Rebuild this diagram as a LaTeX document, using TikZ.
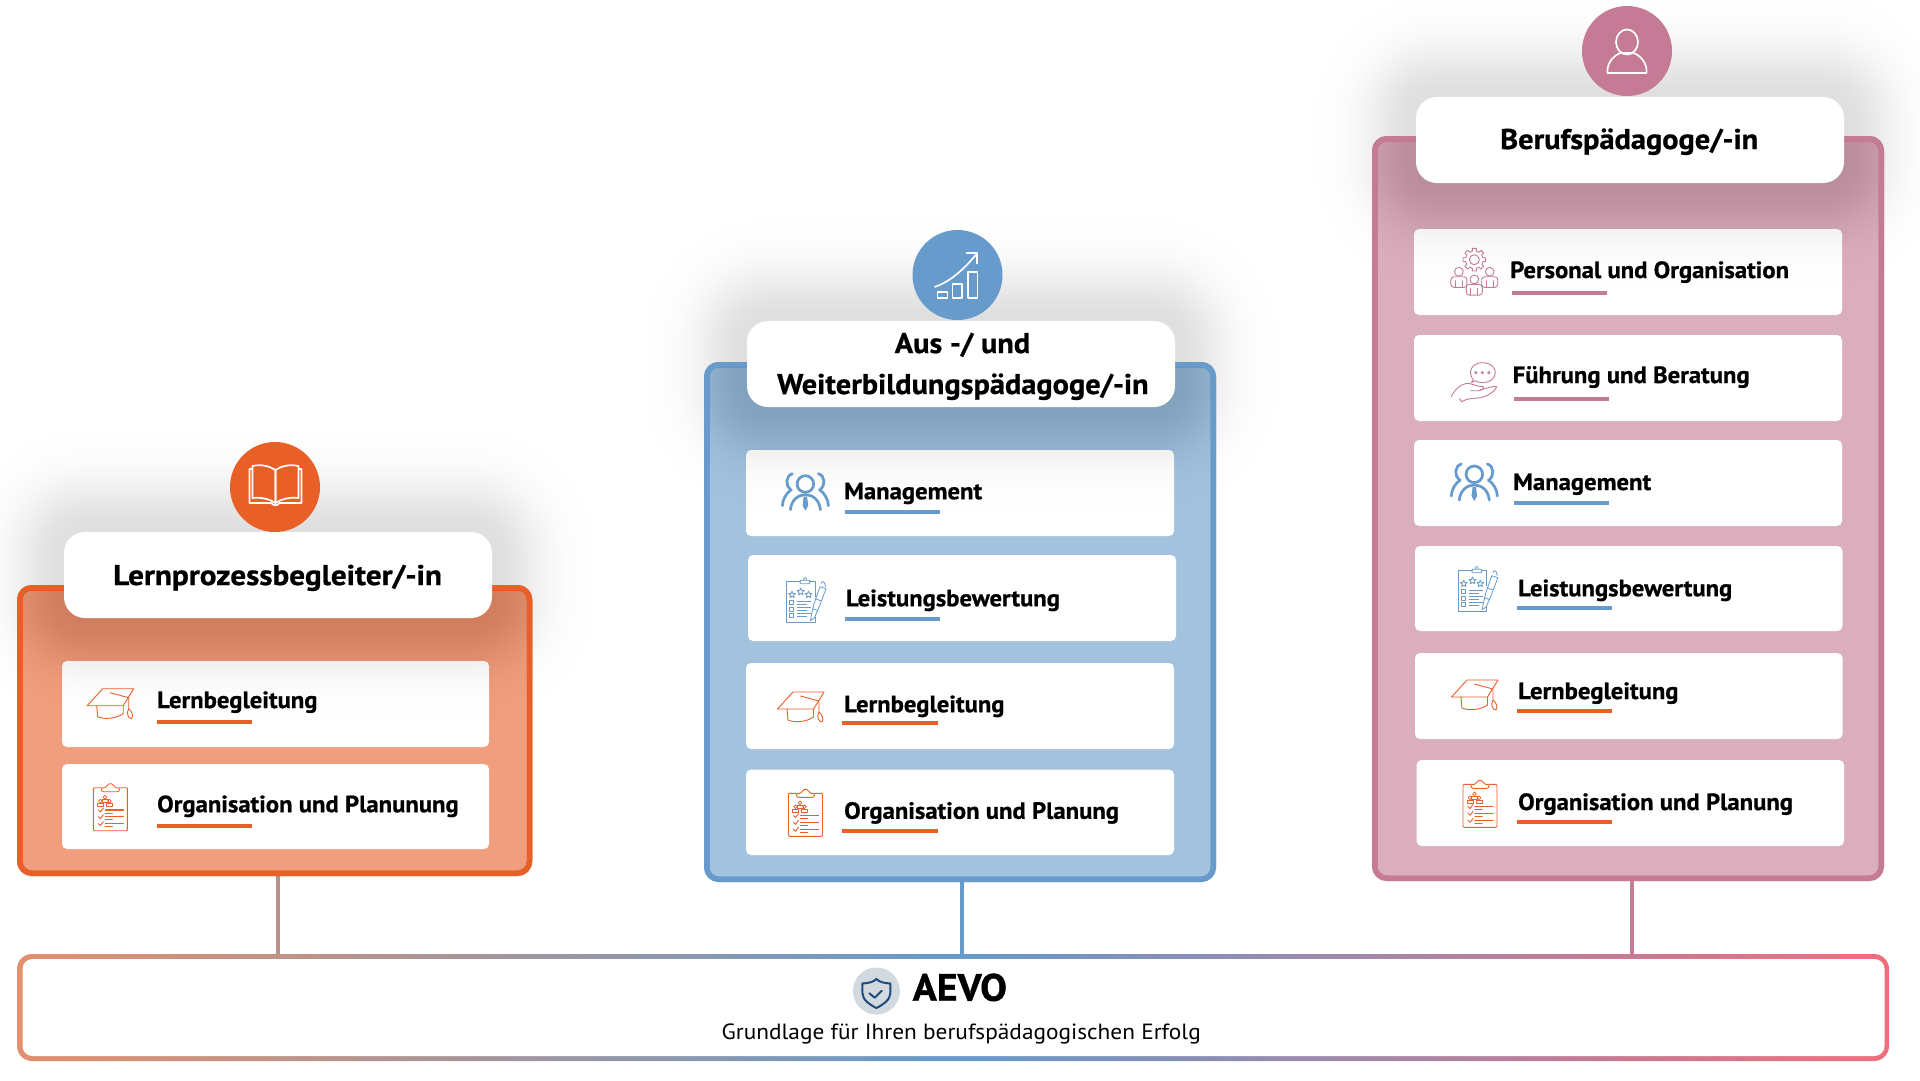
\documentclass[tikz,border=0pt]{standalone}
\usepackage{fontspec}
\setmainfont{PT Sans}
\newfontfamily\fitem{PT Sans}[BoldFeatures={FakeBold=0.8,FakeStretch=1.05}]
\newfontfamily\fhead{PT Sans}[BoldFeatures={FakeBold=0.8,FakeStretch=1.065}]
\newfontfamily\fheadb{PT Sans}[BoldFeatures={FakeBold=0.8,FakeStretch=1.095}]
\newfontfamily\fsub{PT Sans}[FakeStretch=1.06]
\newfontfamily\faevo{PT Sans}[BoldFeatures={FakeBold=1,FakeStretch=1.05}]
\usetikzlibrary{calc}
\definecolor{org}{HTML}{E95F28}\definecolor{orgl}{HTML}{F09E7D}
\definecolor{blu}{HTML}{669BCB}\definecolor{blul}{HTML}{A3C2DE}
\definecolor{ros}{HTML}{C57B95}\definecolor{rosl}{HTML}{DAAEBD}
\definecolor{gl}{HTML}{E3906C}\definecolor{gr}{HTML}{F06E7C}
\definecolor{shieldc}{HTML}{1F4A7D}\definecolor{shieldb}{HTML}{D3DADF}
\definecolor{cl}{HTML}{B8928A}
\tikzset{
 cardbox/.style={line width=5.5pt,rounded corners=12pt,inner sep=0pt,outer sep=0pt},
 itembox/.style={fill=white,rounded corners=5pt,inner sep=0pt,outer sep=0pt},
 headbox/.style={fill=white,rounded corners=21pt,inner sep=0pt,outer sep=0pt},
 disc/.style={circle,minimum size=90pt,inner sep=0pt,outer sep=0pt},
 itemtext/.style={anchor=base west,inner sep=0pt,font=\fitem\fontsize{23.5}{28}\selectfont\bfseries},
 headtext/.style={anchor=base west,inner sep=0pt,font=\fhead\fontsize{28.5}{34}\selectfont\bfseries},
 headtextb/.style={anchor=base west,inner sep=0pt,font=\fheadb\fontsize{28.5}{34}\selectfont\bfseries},
 link/.style={line width=4pt},
 uline/.style={line width=4pt},
 ic/.style={line width=.9pt,line join=round,line cap=round},
 wicon/.style={draw=white,line width=1.7pt,line join=round},
}
\newcommand\bx[6]{\pgfmathsetmacro\bw{#5-#3}\pgfmathsetmacro\bh{#6-#4}%
 \node[#1,minimum width=\bw pt,minimum height=\bh pt] (#2) at ({(#3+#5)/2},{(#4+#6)/2}) {};}
\newcommand\softsh[4]{\foreach \i in {1,...,32}{\pgfmathsetmacro\e{50*sqrt(-ln((\i-.5)/32))}\pgfmathsetlengthmacro\rr{21+\e}%
 \fill[black,opacity=.0042,rounded corners=\rr] ({#1-\e},{#2-\e}) rectangle ({#3+\e},{#4+\e});}}
\newcommand\itm[8]{\node[itemtext] (#2) at (#3,#4) {#5};\draw[uline,#1] (#6,#8) -- (#7,#8);}
\newcommand\icHat[3]{\begin{scope}[shift={(#1,#2)},draw=#3,ic]
 \draw (-8,-15)--(23,-15)--(12.5,2)--(-23.5,2)--cycle;
 \draw (-.5,-11)--(18,-6)--(18,5);
 \draw (18,5) .. controls (15,10) and (18,15) .. (21,15) .. controls (23,12) and (21,7) .. (18,5);
 \draw (-14,2) -- (-13,13) .. controls (-6,16) and (5,15) .. (12.5,10) -- (12.5,2);
\end{scope}}
\newcommand\icClip[3]{\begin{scope}[shift={(#1,#2)},draw=#3,ic]
 \draw[rounded corners=1pt] (-17,-19) rectangle (17,24);
 \fill[white,rounded corners=2pt] (-9,-20) rectangle (9,-14);
 \draw[rounded corners=2pt] (-9,-19) -- (-9,-15) -- (9,-15) -- (9,-19) -- (3.5,-19) -- (3,-23) -- (-3,-23) -- (-3.5,-19) -- cycle;
 \foreach \p/\q in {-5.5/-9.5,-10/-5.5,-1/-5.5}{\draw[line width=.7pt] (\p,\q) circle [radius=1.9];
   \draw[line width=.7pt] (\p-3,\q+5.5) -- (\p-3,\q+2.5) -- (\p+3,\q+2.5) -- (\p+3,\q+5.5) -- cycle;}
 \foreach \r in {3.3,10,17}{\draw (-12,\r) -- (-10,\r+2) -- (-7,\r-2);
   \draw[line width=1.1pt] (-5,\r) -- (13,\r); \draw[line width=1.1pt] (-5,\r+3.2) -- (2,\r+3.2);}
\end{scope}}
\newcommand\icPeople[3]{\begin{scope}[shift={(#1,#2)},draw=#3,line width=2.7pt,line cap=round]
 \draw (0,-8.7) circle [radius=8.3];
 \draw (-15,17) .. controls (-14,7) and (-7,2) .. (0,2) .. controls (7,2) and (14,7) .. (15,17);
 \fill[#3] (-1.7,4) -- (1.7,4) -- (2.8,13) -- (0,18) -- (-2.8,13) -- cycle;
 \foreach \s in {-1,1}{\begin{scope}[xscale=\s]
  \draw (13,-19) .. controls (20,-17) and (20,-7) .. (15,-3);
  \draw (14,-3) .. controls (19,0) and (23,7) .. (23,13);
 \end{scope}}
\end{scope}}
\newcommand\starp[3]{\draw[shift={(#1,#2)}] (-90:#3) -- (-54:.45*#3) -- (-18:#3) -- (18:.45*#3) -- (54:#3) -- (90:.45*#3) -- (126:#3) -- (162:.45*#3) -- (198:#3) -- (234:.45*#3) -- cycle;}
\newcommand\icRate[3]{\begin{scope}[shift={(#1,#2)},draw=#3,line width=.8pt,line join=round]
 \draw (-4,-20) -- (-18.5,-20) -- (-18.5,21) -- (10,21) -- (10,15);
 \draw (10,-5) -- (10,-20) -- (4,-20);
 \draw[rounded corners=1pt] (-5,-18) rectangle (5,-21.5); \draw (-1.5,-21.5) -- (-1,-24) -- (1,-24) -- (1.5,-21.5);
 \starp{-13}{-7}{3.6}\starp{-4.3}{-10}{3.8}\starp{3.5}{-7}{3.6}
 \foreach \r in {1,7.3,13.6}{\draw (-15.5,\r-2) rectangle (-11.5,\r+2);\draw (-8,\r-1.5) -- (6,\r-1.5);\draw (-8,\r+1.5) -- (2,\r+1.5);}
 \draw (15,-15) -- (9,2) -- (6,15) -- (5.5,19) -- (9.5,16) -- (15,3) -- (21,-13) -- cycle;
 \draw (16,-18) .. controls (17,-22) and (20,-20) .. (20.5,-15);
 \draw (8,7) -- (13,9); \draw (10,-3) -- (16,-1);
\end{scope}}
\newcommand\icTeam[3]{\begin{scope}[shift={(#1,#2)},draw=#3,ic]
 \begin{scope}[shift={(0,-12)}]
 \draw (-12:8.8) \foreach \a in {0,45,...,315}{ -- ({\a-10}:11.5) -- ({\a+10}:11.5) -- ({\a+13}:8.8) -- ({\a+32}:8.8)} -- cycle;
 \draw (0,0) circle [radius=5];
 \end{scope}
 \foreach \p/\q in {-15.4/0,15.4/0,0/7.7}{\fill[white] (\p,\q) circle [radius=4.5];\draw (\p,\q) circle [radius=4.4];
  \fill[white,rounded corners=3pt] (\p-8,\q+5) rectangle (\p+8,\q+15.7);
  \draw[rounded corners=3pt] (\p-8,\q+15.7) -- (\p-8,\q+5) -- (\p+8,\q+5) -- (\p+8,\q+15.7) -- cycle;
  \draw (\p-3.5,\q+9) -- (\p-3.5,\q+15.7); \draw (\p+3.5,\q+9) -- (\p+3.5,\q+15.7);}
\end{scope}}
\newcommand\icHand[3]{\begin{scope}[shift={(#1,#2)},draw=#3,ic]
 \draw (-1,-2) .. controls (-7,-9) and (-3,-19) .. (8,-19) .. controls (17,-19) and (21,-14) .. (21,-9) .. controls (21,-3) and (15,1) .. (8,1) .. controls (5,1) and (3,0) .. (1,-1) -- (-3,1) -- cycle;
 \foreach \p in {1.5,8,14.5}{\draw (\p,-9) circle [radius=1.2];}
 \draw (-23,15) .. controls (-20,8) and (-13,2) .. (-7,1.5) .. controls (-2,2) and (3,5) .. (9,5) .. controls (10,7) and (7,9) .. (4,9) -- (-4,9);
 \draw (6,8) .. controls (12,7) and (18,4) .. (22.5,5) .. controls (20,11) and (11,15) .. (6,16) .. controls (0,17) and (-7,16) .. (-12.5,20);
 \draw (-12.5,20) -- (-15,17);
\end{scope}}
\begin{document}
\begin{tikzpicture}[x=1pt,y=-1pt]
\useasboundingbox (0,0) rectangle (1920,1080);
% links and base
\coordinate (c1) at (278,876);\coordinate (c2) at (962,881);\coordinate (c3) at (1632,880);
\bx{shade,left color=gl,right color=gr,middle color=blu,rounded corners=15pt,inner sep=0pt,outer sep=0pt}{aevo}{17}{954}{1889}{1061}
\bx{fill=white,rounded corners=10pt,inner sep=0pt,outer sep=0pt}{aevoin}{22.5}{959}{1884.5}{1056}
\draw[link,cl] (c1) -- (c1 |- aevo.north);
\draw[link,blu] (c2) -- (c2 |- aevo.north);
\draw[link,ros] (c3) -- (c3 |- aevo.north);
\node[circle,fill=shieldb,minimum size=47pt,inner sep=0pt] (shd) at (876.4,991) {};
\begin{scope}[shift={(876.4,991)},draw=shieldc,line width=2pt,line join=round,line cap=round]
 \draw (-14,-7.5) .. controls (-7,-8) and (-3,-9) .. (0,-12) .. controls (3,-9) and (7,-8) .. (14,-7.5) -- (14,2) .. controls (14,9) and (6,14) .. (0,17) .. controls (-6,14) and (-14,9) .. (-14,2) -- cycle;
 \draw (-7,2.3) -- (-1.7,6.7) -- (5.4,-.3);
\end{scope}
\node[anchor=base west,inner sep=0pt,font=\faevo\fontsize{38}{44}\selectfont\bfseries] (aevot) at (912.5,1000.7) {AEVO};
\node[anchor=base west,inner sep=0pt,font=\fsub\fontsize{22}{26}\selectfont] (aevos) at (721.4,1039) {Grundlage für Ihren berufspädagogischen Erfolg};
% left card
\bx{cardbox,draw=org,fill=orgl}{card1}{19.75}{587.75}{529.5}{873.25}
\bx{itembox}{a1}{62}{661}{489}{747}
\bx{itembox}{a2}{62}{764}{489}{849}
\softsh{64}{532}{492}{618}
\bx{cardbox,draw=org}{card1o}{19.75}{587.75}{529.5}{873.25}
\bx{headbox}{ah}{64}{532}{492}{618}
\node[disc,fill=org] (ac) at (275,487) {};
\begin{scope}[shift={(275.4,483)},wicon]
 \draw (-23,-17) .. controls (-14,-19) and (-6,-17) .. (0,-13) -- (0,20) .. controls (-6,16) and (-14,14) .. (-23,15) -- cycle;
 \draw (23,-17) .. controls (14,-19) and (6,-17) .. (0,-13) -- (0,20) .. controls (6,16) and (14,14) .. (23,15) -- cycle;
 \draw (-23,-14) -- (-26,-14) -- (-26,20) -- (-4,20) .. controls (-2,23) and (2,23) .. (4,20) -- (26,20) -- (26,-14) -- (23,-14);
\end{scope}
\node[headtextb] (at) at (113,585) {Lernprozessbegleiter/-in};
\icHat{110.7}{703.7}{org}\itm{org}{a1t}{157}{708}{Lernbegleitung}{157}{252}{721.7}
\icClip{110.4}{806.7}{org}\itm{org}{a2t}{157}{812.2}{Organisation und Planunung}{157}{252}{825.7}
% middle card
\bx{cardbox,draw=blu,fill=blul}{card2}{706.75}{364.75}{1213.25}{879.25}
\bx{itembox}{b1}{746}{450}{1174}{536}
\bx{itembox}{b2}{748}{555}{1176}{641}
\bx{itembox}{b3}{746}{663}{1174}{749}
\bx{itembox}{b4}{746}{769.5}{1174}{855}
\softsh{747}{321}{1175}{407}
\bx{cardbox,draw=blu}{card2o}{706.75}{364.75}{1213.25}{879.25}
\bx{headbox}{bh}{747}{321}{1175}{407}
\node[disc,fill=blu] (bc) at (957.5,275) {};
\begin{scope}[shift={(957.5,275)},wicon]
 \draw (-20,17) rectangle (-10,23); \draw (-5,9) rectangle (4.6,23); \draw (10.4,-3) rectangle (20,23);
 \draw (-23,12) .. controls (-8,7) and (6,-5) .. (19,-21);
 \draw (8,-22) -- (19.5,-22) -- (19.5,-11);
\end{scope}
\node[headtext] (bt1) at (894.6,353) {Aus -/ und};
\node[headtext] (bt2) at (777,394) {Weiterbildungspädagoge/-in};
\icPeople{805.4}{492.7}{blu}\itm{blu}{b1t}{844}{499.2}{Management}{844.6}{940}{511.7}
\icRate{805}{601.7}{blu}\itm{blu}{b2t}{845.7}{606.2}{Leistungsbewertung}{844.6}{940}{618.7}
\icHat{801}{707}{org}\itm{org}{b3t}{844}{712.2}{Lernbegleitung}{842.4}{938}{722.7}
\icClip{805.5}{812.3}{org}\itm{org}{b4t}{844}{818.8}{Organisation und Planung}{842.4}{938}{831}
% right card
\bx{cardbox,draw=ros,fill=rosl}{card3}{1374.75}{138.75}{1881.25}{878.25}
\bx{itembox}{c1b}{1414}{229}{1842}{315}
\bx{itembox}{c2b}{1414}{335}{1842}{421}
\bx{itembox}{c3b}{1414}{440}{1842}{526}
\bx{itembox}{c4b}{1415}{546}{1842.5}{631}
\bx{itembox}{c5b}{1415}{653}{1842.5}{739}
\bx{itembox}{c6b}{1416.5}{760}{1844}{846}
\softsh{1416}{97}{1844}{183}
\bx{cardbox,draw=ros}{card3o}{1374.75}{138.75}{1881.25}{878.25}
\bx{headbox}{ch}{1416}{97}{1844}{183}
\node[disc,fill=ros] (cc) at (1627,51) {};
\begin{scope}[shift={(1627,51)},wicon]
 \draw (0,-9) ellipse [x radius=11,y radius=12.5];
 \draw (-19.6,22) -- (19.6,22) -- (19.6,20) .. controls (19.6,10) and (11,3) .. (6,2) -- (-6,2) .. controls (-11,3) and (-19.6,10) .. (-19.6,20) -- cycle;
\end{scope}
\node[headtext] (ct) at (1500,149) {Berufspädagoge/-in};
\icTeam{1474.3}{271.7}{ros}\itm{ros}{c1t}{1510}{278}{Personal und Organisation}{1512}{1607}{292.5}
\icHand{1474.3}{381.7}{ros}\itm{ros}{c2t}{1512.5}{383}{Führung und Beratung}{1514}{1609}{399}
\icPeople{1474.3}{483}{blu}\itm{blu}{c3t}{1513}{490}{Management}{1514}{1609}{503}
\icRate{1476.8}{590.7}{blu}\itm{blu}{c4t}{1518}{596.2}{Leistungsbewertung}{1517}{1612}{608}
\icHat{1475}{695}{org}\itm{org}{c5t}{1518}{699}{Lernbegleitung}{1517}{1612}{710.7}
\icClip{1480}{803.3}{org}\itm{org}{c6t}{1518}{810}{Organisation und Planung}{1517}{1612}{822}
\end{tikzpicture}
\end{document}
